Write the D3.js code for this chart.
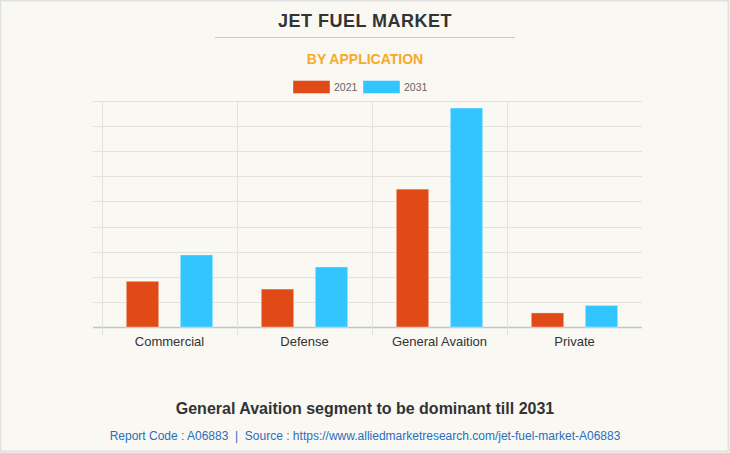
<!DOCTYPE html>
<html>
<head>
<meta charset="utf-8">
<script src="https://cdn.jsdelivr.net/npm/d3@7"></script>
<style>
html,body{margin:0;padding:0;background:#f9f8f3;}
svg{display:block;font-family:"Liberation Sans",Arial,sans-serif;}
</style>
</head>
<body>
<svg id="chart" width="730" height="453"></svg>
<script>
const categories = ["Commercial", "Defense", "General Avaition", "Private"];
const seriesNames = ["2021", "2031"];
const values2021 = [1.82, 1.51, 5.49, 0.56];
const values2031 = [2.87, 2.39, 8.72, 0.86];
const yTicks = [0,1,2,3,4,5,6,7,8,9];
const colors = ["#e04a16", "#33c5ff"];

(function(){
const svg = d3.select("#chart");
const W = 730, H = 453;
svg.append("rect").attr("x",0.5).attr("y",0.5).attr("width",W-2).attr("height",H-2)
  .attr("fill","#f9f8f3").attr("stroke","#e2e2e2").attr("stroke-width",2);

// titles
svg.append("text").attr("x",365).attr("y",27).attr("text-anchor","middle")
  .attr("font-size",18).attr("font-weight","bold").attr("fill","#333").attr("letter-spacing",0.5)
  .text("JET FUEL MARKET");
svg.append("line").attr("x1",215).attr("x2",515).attr("y1",37.5).attr("y2",37.5)
  .attr("stroke","#c8c8c8").attr("stroke-width",1);
svg.append("text").attr("x",365).attr("y",64).attr("text-anchor","middle")
  .attr("font-size",14).attr("font-weight","bold").attr("fill","#f7a928")
  .text("BY APPLICATION");

// legend
const legend = [{x:293,name:seriesNames[0],c:colors[0]},{x:363,name:seriesNames[1],c:colors[1]}];
legend.forEach(l=>{
  svg.append("rect").attr("x",l.x).attr("y",80.5).attr("width",37).attr("height",13)
    .attr("fill",l.c).attr("stroke","#fff").attr("stroke-opacity",0.4);
  svg.append("text").attr("x",l.x+41).attr("y",91).attr("font-size",10.5).attr("fill","#666").text(l.name);
});

const pLeft = 102, pRight = 642, pTop = 101, pBottom = 327;
const x0 = d3.scaleBand().domain(categories).range([pLeft,pRight]).paddingInner(0).paddingOuter(0);
const x1 = d3.scaleBand().domain(seriesNames).range([0,x0.bandwidth()*0.8]).paddingInner(0.4).paddingOuter(0.2);
const y = d3.scaleLinear().domain([0,9]).range([pBottom,pTop]);

// horizontal grid
const g = svg.append("g");
g.selectAll("line.h").data(yTicks).enter().append("line")
  .attr("x1",93).attr("x2",pRight)
  .attr("y1",d=>Math.round(y(d))+0.5).attr("y2",d=>Math.round(y(d))+0.5)
  .attr("stroke",d=>d===0?"#c4c4c4":"#e4e2dc").attr("stroke-width",d=>d===0?1.5:1);
// vertical grid
g.selectAll("line.v").data(categories).enter().append("line")
  .attr("x1",d=>Math.round(x0(d))+0.5).attr("x2",d=>Math.round(x0(d))+0.5)
  .attr("y1",pTop).attr("y2",pBottom+8)
  .attr("stroke","#e4e2dc");

// bars
const data = categories.map((c,i)=>({cat:c, vals:[values2021[i],values2031[i]]}));
const grp = svg.selectAll("g.cat").data(data).enter().append("g")
  .attr("transform",d=>`translate(${x0(d.cat)+x0.bandwidth()*0.1},0)`);
grp.selectAll("rect").data(d=>d.vals.map((v,i)=>({v,s:seriesNames[i],c:colors[i]}))).enter().append("rect")
  .attr("x",d=>x1(d.s)).attr("width",x1.bandwidth())
  .attr("y",d=>y(d.v)).attr("height",d=>y(0)-y(d.v))
  .attr("fill",d=>d.c).attr("stroke","#fff").attr("stroke-opacity",0.35).attr("stroke-width",1);

// x axis labels
svg.selectAll("text.xl").data(categories).enter().append("text")
  .attr("x",d=>x0(d)+x0.bandwidth()/2).attr("y",346).attr("text-anchor","middle")
  .attr("font-size",13).attr("fill","#333").text(d=>d);

// footer
svg.append("text").attr("x",365).attr("y",414).attr("text-anchor","middle")
  .attr("font-size",16).attr("font-weight","bold").attr("fill","#333")
  .text("General Avaition segment to be dominant till 2031");
svg.append("text").attr("x",365).attr("y",440).attr("text-anchor","middle")
  .attr("font-size",12).attr("fill","#2a6ebd").attr("xml:space","preserve")
  .text("Report Code : A06883  |  Source : https://www.alliedmarketresearch.com/jet-fuel-market-A06883");
})();
</script>
</body>
</html>
